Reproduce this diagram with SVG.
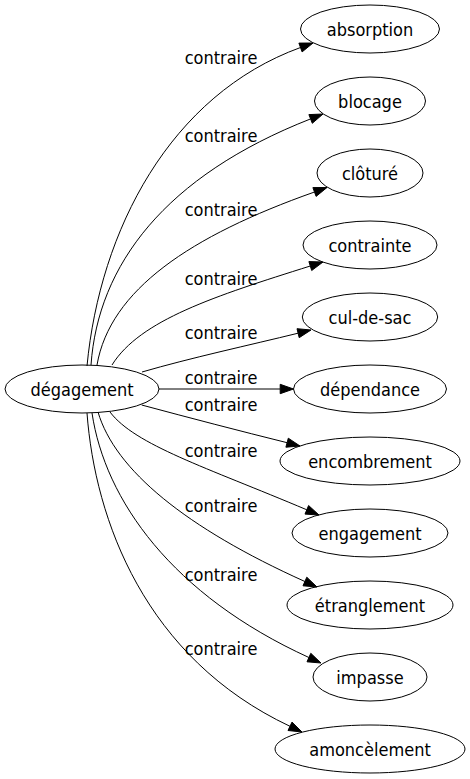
<svg xmlns="http://www.w3.org/2000/svg" width="470" height="779" viewBox="0 0 470 779">
<style>
.n ellipse{fill:none;stroke:#000;stroke-width:1}
text{font-family:"DejaVu Sans Condensed","DejaVu Sans",sans-serif;font-stretch:condensed;font-size:18px;fill:#000;text-anchor:middle}
.e path{fill:none;stroke:#000;stroke-width:1}
.e polygon{fill:#000;stroke:#000;stroke-width:1}
</style>
<rect width="470" height="779" fill="#fff"/>
<g id="edges" class="e">
<path d="M87,366 C100,230 170,95 300.5,47.5"/><polygon points="302.1,51.9 313,43 298.9,43.1"/>
<path d="M91,365 C98,265 165,176 310.6,118.9"/><polygon points="312.3,123.3 323,114 308.9,114.6"/>
<path d="M97,365 C110,290 190,236 314.5,192"/><polygon points="316.1,196.4 327,187.5 312.9,187.6"/>
<path d="M112,365 C140,320 215,296 310.3,266"/><polygon points="311.7,270.5 323,262 308.9,261.6"/>
<path d="M142,372 C190,358 250,345 298.1,333.2"/><polygon points="299.2,337.7 311,330 297,328.7"/>
<path d="M159,389 L280.2,389"/><polygon points="280.2,393.7 293.5,389 280.2,384.3"/>
<path d="M141.7,405 C190,418 240,431 287.1,442.7"/><polygon points="285.9,447.2 300,446 288.3,438.2"/>
<path d="M110,412 C135,445 205.5,467 306.8,509.8"/><polygon points="305,514.1 319,515 308.6,505.5"/>
<path d="M98,412 C115,470 186,528 304.9,581.5"/><polygon points="303,585.8 317,587 306.8,577.2"/>
<path d="M92,413 C105,500 172,595 308.9,657.5"/><polygon points="307,661.8 321,663 310.8,653.3"/>
<path d="M87,413 C95,520 145,658 290,726.3"/><polygon points="288,730.5 302,732 292,722.1"/>
<text x="221" y="64">contraire</text>
<text x="221" y="142">contraire</text>
<text x="221" y="216">contraire</text>
<text x="221" y="285">contraire</text>
<text x="221" y="339">contraire</text>
<text x="221" y="384">contraire</text>
<text x="221" y="411">contraire</text>
<text x="221" y="457">contraire</text>
<text x="221" y="512">contraire</text>
<text x="221" y="581">contraire</text>
<text x="221" y="655">contraire</text>
</g>
<g id="degagement" class="n"><ellipse cx="82" cy="389" rx="77" ry="24"/><text x="82" y="395.5">dégagement</text></g>
<g id="absorption" class="n"><ellipse cx="370" cy="29" rx="69.5" ry="24"/><text x="370" y="35.5">absorption</text></g>
<g id="blocage" class="n"><ellipse cx="370" cy="101" rx="55.5" ry="24"/><text x="370" y="107.5">blocage</text></g>
<g id="cloture" class="n"><ellipse cx="370" cy="173" rx="53" ry="24"/><text x="370" y="179.5">clôturé</text></g>
<g id="contrainte" class="n"><ellipse cx="370" cy="245" rx="67" ry="24"/><text x="370" y="251.5">contrainte</text></g>
<g id="cul-de-sac" class="n"><ellipse cx="370" cy="317" rx="67.7" ry="24"/><text x="370" y="323.5">cul-de-sac</text></g>
<g id="dependance" class="n"><ellipse cx="370" cy="389" rx="76.5" ry="24"/><text x="370" y="395.5">dépendance</text></g>
<g id="encombrement" class="n"><ellipse cx="370" cy="461" rx="90" ry="24"/><text x="370" y="467.5">encombrement</text></g>
<g id="engagement" class="n"><ellipse cx="370" cy="533" rx="78" ry="24"/><text x="370" y="539.5">engagement</text></g>
<g id="etranglement" class="n"><ellipse cx="370" cy="605" rx="83" ry="24"/><text x="370" y="611.5">étranglement</text></g>
<g id="impasse" class="n"><ellipse cx="370" cy="677" rx="57" ry="24"/><text x="370" y="683.5">impasse</text></g>
<g id="amoncelement" class="n"><ellipse cx="370" cy="749" rx="95" ry="24"/><text x="370" y="755.5">amoncèlement</text></g>
</svg>
